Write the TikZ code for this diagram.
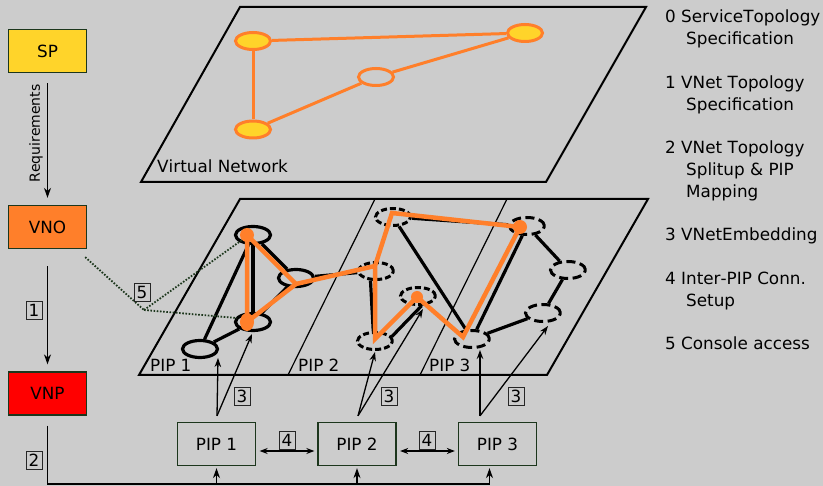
\documentclass[tikz,border=0pt]{standalone}
\usepackage{fontspec}
\setmainfont[Kerning=Off]{DejaVu Sans}
\usetikzlibrary{shapes.geometric,arrows.meta}
\definecolor{bg}{HTML}{CCCCCC}
\definecolor{orng}{HTML}{FF7F2A}
\definecolor{yel}{HTML}{FFD42A}
\definecolor{dgreen}{HTML}{1C361C}
\definecolor{vnpred}{HTML}{FF0000}
\begin{document}
\begin{tikzpicture}[x=1pt,y=-1pt,
  txt/.style={font=\fontsize{16.8}{20}\selectfont, inner sep=0pt, anchor=base west},
  role/.style={draw=dgreen, line width=1.3pt, minimum width=78pt, minimum height=43pt, inner sep=0pt, font=\fontsize{16.8}{20}\selectfont},
  numbox/.style={draw=black!85, line width=0.8pt, minimum width=16pt, minimum height=18pt, inner sep=0pt, font=\fontsize{16.8}{20}\selectfont},
  vnode/.style={ellipse, draw=orng, line width=3pt, minimum width=35pt, minimum height=17pt, inner sep=0pt},
  vedge/.style={draw=orng, line width=3pt},
  snode/.style={ellipse, draw=black, line width=3.2pt, minimum width=35pt, minimum height=17pt, inner sep=0pt},
  dnode/.style={snode, line width=3pt, dash pattern=on 6pt off 3pt},
  dnodeb/.style={snode, line width=3pt, dash pattern=on 9pt off 4.5pt},
  bedge/.style={draw=black, line width=3.2pt},
  oedge/.style={draw=orng, line width=4.5pt, line join=miter},
  arr/.style={-{Stealth[length=10pt,width=7pt]}, line width=1.3pt},
  sarr/.style={-{Stealth[length=9pt,width=6.5pt]}, line width=1.3pt},
  darr/.style={{Stealth[length=8pt,width=6pt]}-{Stealth[length=8pt,width=6pt]}, line width=1.2pt},
  dots/.style={draw=dgreen, line width=1.8pt, dash pattern=on 1.6pt off 1.6pt},
  plane/.style={draw=black, line width=2pt},
]
\fill[bg] (0,0) rectangle (823,486);
\useasboundingbox (0,0) rectangle (823,486);

% ---------- left column ----------
\node[role, fill=yel] (SP) at (47.5,51) {SP};
\node[role, fill=orng] (VNO) at (47.5,227) {VNO};
\node[role, fill=vnpred] (VNP) at (47.5,393.5) {VNP};
\draw[arr, shorten <=10pt, shorten >=7pt] (SP) -- (VNO);
\node[rotate=90, font=\fontsize{14}{16}\selectfont, inner sep=0pt] (req) at (36,133.5) {Requirements};
\draw[arr, shorten <=17pt, shorten >=7pt] (VNO) -- (VNP);
\node[numbox] (n1) at (34,310) {1};
\coordinate (lineend) at (490,484);
\draw[line width=1.3pt] ([yshift=-10pt]VNP.south) |- (lineend);
\node[numbox] (n2) at (34,460) {2};

% ---------- top plane ----------
\draw[plane] (141,182) -- (546,182) -- (646,7) -- (240,7) -- cycle;
\node[txt] (vnlab) at (157,173) {Virtual Network};
\node[vnode, fill=yel] (A) at (253,41) {};
\node[vnode, fill=yel] (B) at (525,33) {};
\node[vnode, fill=yel] (C) at (253,129.5) {};
\node[vnode] (D) at (376,77) {};
\draw[vedge] (A) -- (B);
\draw[vedge] (A) -- (C);
\draw[vedge] (C) -- (D);
\draw[vedge] (D) -- (B);

% ---------- bottom plane ----------
\draw[plane] (139,375) -- (547,375) -- (648,199) -- (240,199) -- cycle;
\draw[line width=1.2pt] (288,375) -- (375,199);
\draw[line width=1.2pt] (420,375) -- (507,199);
\node[txt] (l1) at (150,372) {PIP 1};
\node[txt] (l2) at (298,372) {PIP 2};
\node[txt] (l3) at (429,372) {PIP 3};

\node[snode] (N1) at (253,235) {};
\node[snode] (N2) at (253,322) {};
\node[snode] (N3) at (296,278) {};
\node[snode] (N4) at (200,349) {};
\node[dnode] (P2a) at (393,217) {};
\node[dnode] (P2b) at (376,271) {};
\node[dnode] (P2c) at (418,296) {};
\node[dnode] (P2d) at (375,341) {};
\node[dnodeb] (P3a) at (527,226) {};
\node[dnodeb] (P3b) at (568,270) {};
\node[dnodeb] (P3c) at (543,313) {};
\node[dnodeb] (P3d) at (472,339) {};

\draw[bedge] (N4) -- (N1);
\draw[bedge] (N4) -- (N2);
\draw[bedge] (N1) -- (N2);
\draw[bedge] (N1) -- (N3);
\draw[bedge] (N2) -- (N3);
\draw[bedge] (N3) -- (P2b);
\draw[bedge] (P2b.240) -- (P2d.100);
\draw[bedge] (P2d.15) -- (P2c.290);
\draw[bedge] (P2a) -- (P3a);
\draw[bedge] (P2a) -- (P3d);
\draw[bedge] (P3a) -- (P3d);
\draw[bedge] (P3a) -- (P3b);
\draw[bedge] (P3b) -- (P3c);
\draw[bedge] (P3c) -- (P3d);

% orange embedding path
\coordinate (o1) at (247,235);
\coordinate (o2) at (247,322);
\coordinate (o3) at (296,284);
\coordinate (o4) at (375,266);
\coordinate (o5) at (392,213);
\coordinate (o6) at (520,227);
\coordinate (o7) at (463,337);
\coordinate (o8) at (417,297);
\coordinate (o9) at (375,339);
\draw[oedge] (o1) -- (o2) -- (o3) -- cycle;
\draw[oedge] (o3) -- (o4) -- (o5) -- (o6) -- (o7) -- (o8) -- (o9) -- (o4);
\fill[orng] (o1) circle[radius=7pt];
\fill[orng] (o2) ellipse[x radius=7pt, y radius=9pt];
\fill[orng] (o6) circle[radius=7pt];
\fill[orng] (o8) circle[radius=6pt];

% console access (5)
\coordinate (v5) at (144,310);
\draw[dots] ([shift={(-2,8)}]VNO.south east) -- (v5);
\draw[dots] (v5) -- ([shift={(-11,5)}]N1.center);
\draw[dots] (v5) -- ([shift={(-16,-4)}]N2.center);
\node[numbox] (n5) at (142,292) {5};

% ---------- PIP boxes ----------
\node[role, fill=bg] (PIP1) at (216.5,444) {PIP 1};
\node[role, fill=bg] (PIP2) at (357,444) {PIP 2};
\node[role, fill=bg] (PIP3) at (497.5,444) {PIP 3};

\draw[darr] ([shift={(3.5,7)}]PIP1.east) -- ([shift={(-3,7)}]PIP2.west);
\draw[darr] ([shift={(3.5,7)}]PIP2.east) -- ([shift={(-3,7)}]PIP3.west);
\node[numbox] (n4a) at (287,440) {4};
\node[numbox] (n4b) at (427,440) {4};

\coordinate (p1in) at (PIP1.south);
\coordinate (p2in) at (PIP2.south);
\coordinate (p3in) at ([xshift=-8pt]PIP3.south);
\draw[arr] (p1in |- lineend) -- ([yshift=-2pt]p1in);
\draw[arr] (p2in |- lineend) -- ([yshift=-2pt]p2in);
\draw[arr] (p3in |- lineend) -- ([yshift=-2pt]p3in);

% embedding arrows (3)
\coordinate (s1) at ([shift={(0.5,-6)}]PIP1.north);
\coordinate (s2) at ([shift={(1,-6)}]PIP2.north);
\coordinate (s3) at ([shift={(-17.5,-6)}]PIP3.north);
\draw[sarr] (s1) -- ([shift={(18,9)}]N4.center);
\draw[sarr] (s1) -- ([shift={(-1,12)}]N2.center);
\draw[sarr] (s2) -- ([shift={(0,11)}]P2d.center);
\draw[sarr] (s2) -- ([shift={(5,13)}]P2c.center);
\draw[sarr] (s3) -- ([shift={(8,11)}]P3d.center);
\draw[sarr] (s3) -- ([shift={(5,13)}]P3c.center);
\node[numbox] (n3a) at (242,396) {3};
\node[numbox] (n3b) at (389,396) {3};
\node[numbox] (n3c) at (516,396) {3};

% ---------- legend ----------
\node[txt] (g0) at (665,23) {0 ServiceTopology};
\node[txt] (g0b) at (686,44.8) {Specification};
\node[txt] (g1) at (665,88.4) {1 VNet Topology};
\node[txt] (g1b) at (686,110.2) {Specification};
\node[txt] (g2) at (665,153.8) {2 VNet Topology};
\node[txt] (g2b) at (686,175.6) {Splitup \& PIP};
\node[txt] (g2c) at (686,197.4) {Mapping};
\node[txt] (g3) at (665,241) {3 VNetEmbedding};
\node[txt] (g4) at (665,284.6) {4 Inter-PIP Conn.};
\node[txt] (g4b) at (686,306.4) {Setup};
\node[txt] (g5) at (665,350) {5 Console access};
\end{tikzpicture}
\end{document}
